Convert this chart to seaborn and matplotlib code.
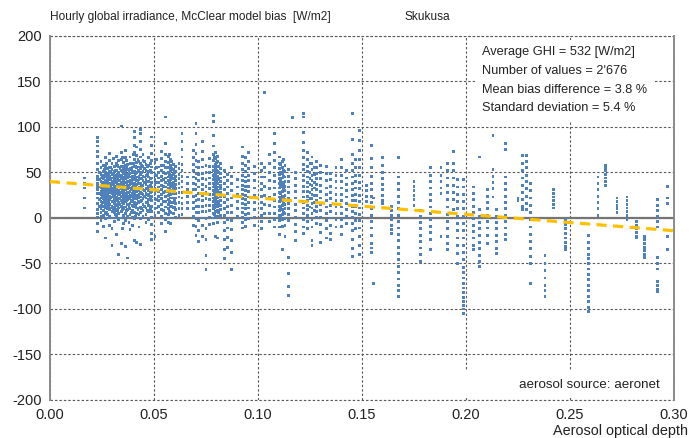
import matplotlib
matplotlib.use("Agg")
import matplotlib.pyplot as plt
from matplotlib.patches import Rectangle
import seaborn as sns
import pandas as pd

# Daily aerosol optical depth and the hourly GHI bias values recorded at it [W/m2]
day_aod = [
    0.0168, 0.0229, 0.0245, 0.0256, 0.0266, 0.0277, 0.0288, 0.0298, 0.0309, 0.0320,
    0.0331, 0.0342, 0.0352, 0.0363, 0.0374, 0.0385, 0.0396, 0.0407, 0.0418, 0.0428,
    0.0437, 0.0447, 0.0462, 0.0475, 0.0490, 0.0505, 0.0520, 0.0535, 0.0555, 0.0568,
    0.0580, 0.0592, 0.0603, 0.0620, 0.0635, 0.0660, 0.0690, 0.0702, 0.0715, 0.0735,
    0.0750, 0.0768, 0.0785, 0.0795, 0.0806, 0.0818, 0.0838, 0.0855, 0.0872, 0.0900,
    0.0925, 0.0940, 0.0955, 0.0985, 0.1015, 0.1030, 0.1055, 0.1080, 0.1105, 0.1118,
    0.1130, 0.1145, 0.1165, 0.1180, 0.1220, 0.1240, 0.1260, 0.1280, 0.1300, 0.1330,
    0.1350, 0.1375, 0.1400, 0.1425, 0.1455, 0.1470, 0.1490, 0.1520, 0.1545, 0.1555,
    0.1600, 0.1640, 0.1675, 0.1750, 0.1780, 0.1830, 0.1880, 0.1910, 0.1940, 0.1960,
    0.1990, 0.2035, 0.2067, 0.2105, 0.2130, 0.2145, 0.2190, 0.2250, 0.2270, 0.2290,
    0.2310, 0.2380, 0.2420, 0.2480, 0.2590, 0.2635, 0.2670, 0.2726, 0.2774, 0.2820,
    0.2860, 0.2920, 0.2970,
]

day_bias = [
    [44, 38, 33, 22, 11],
    [88, 84, 79, 73, 68, 60, 53, 46, 42, 38, 35, 31, 27, 22, 16, 9, 5, 1, -6, -15],
    [62, 55, 48, 44, 40, 36, 33, 29, 26, 22, 18, 14, 10, 6, 2, -3],
    [58, 51, 47, 43, 38, 35, 31, 28, 25, 21, 17, 12, 8, 3, -9],
    [66, 57, 50, 45, 41, 37, 34, 30, 27, 24, 20, 16, 11, 5, -1, -22],
    [54, 49, 44, 40, 36, 32, 29, 26, 23, 19, 15, 10, 4],
    [71, 63, 56, 51, 46, 42, 38, 35, 31, 28, 24, 20, 15, 9, 2, -8],
    [60, 53, 48, 44, 40, 37, 33, 30, 27, 23, 18, 13, 7, -12, -30],
    [57, 51, 46, 42, 39, 35, 32, 28, 25, 21, 16, 12, 6, 0, -4],
    [68, 60, 52, 47, 43, 39, 35, 31, 27, 23, 19, 14, 9, 3, -18],
    [63, 56, 50, 45, 41, 37, 34, 30, 26, 22, 17, 11, 5, -2, -40],
    [101, 72, 64, 57, 52, 47, 43, 39, 36, 32, 28, 24, 19, 13, 7, 0, -28],
    [61, 54, 49, 45, 41, 37, 33, 29, 25, 21, 16, 10, 3, -6],
    [74, 66, 58, 52, 47, 43, 39, 35, 31, 27, 23, 18, 12, 5, -3, -31],
    [59, 53, 48, 44, 40, 36, 32, 28, 24, 20, 15, 9, 2, -44],
    [67, 60, 54, 49, 45, 41, 37, 33, 29, 25, 21, 16, 10, 4, -13],
    [56, 50, 46, 42, 38, 34, 31, 27, 23, 19, 14, 8, 1, -8],
    [95, 88, 80, 72, 64, 57, 51, 46, 42, 38, 34, 30, 26, 22, 17, 12, 6, -1, -25],
    [78, 69, 61, 55, 50, 45, 41, 37, 33, 29, 25, 21, 16, 11, 5, -27],
    [62, 56, 51, 46, 42, 38, 34, 30, 26, 22, 17, 11, 4, -10],
    [97, 93, 84, 75, 67, 60, 54, 48, 43, 38, 33, 28, 23, 18, 12, 6, -1, -29],
    [70, 63, 57, 51, 46, 41, 36, 31, 26, 21, 15, 8, 2],
    [59, 52, 47, 42, 37, 32, 27, 22, 17, 11, 4, -5],
    [66, 58, 51, 45, 40, 35, 30, 25, 20, 14, 7, -2],
    [89, 80, 71, 63, 56, 50, 44, 39, 34, 29, 24, 19, 13, 7, 1, -7, -17, -24],
    [61, 54, 48, 42, 37, 32, 27, 22, 16, 10, 3, -20],
    [56, 50, 44, 39, 34, 29, 24, 19, 13, 6],
    [73, 65, 58, 52, 46, 41, 36, 31, 26, 21, 15, 9, 2, -6],
    [111, 82, 70, 62, 55, 49, 44, 39, 34, 29, 24, 18, 12, 5, -2, -15],
    [68, 61, 55, 50, 45, 41, 37, 33, 29, 25, 20, 15, 10, 4, -5],
    [64, 58, 52, 47, 42, 38, 34, 30, 26, 22, 17, 12, 6, 0, -6],
    [59, 53, 48, 43, 39, 35, 31, 27, 22, 17, 11, 5],
    [57, 51, 46, 41, 37, 32, 27, 22, 16, 9, 1],
    [60, 54, 48, 43, 38, 33, 28, 23, 17, 10, 3],
    [93, 84, 75, 67, 59, 52, 46, 40, 34, 28, 22, 16, 10, 4],
    [45, 38, 31, 24, 17, 10],
    [74, 66, 59, 52, 45, 38, 31, 24, 17, 10, 2, -8],
    [104, 93, 81, 71, 63, 56, 49, 43, 37, 31, 25, 19, 13, 6, -1, -9, -19],
    [62, 55, 48, 41, 34, 27, 20, 13, 6, -3, -14, -26],
    [84, 73, 64, 56, 49, 43, 37, 31, 25, 19, 13, 7, 0, -8, -20],
    [58, 50, 42, 35, 28, 21, 14, 7, -1, -12, -24, -41, -57],
    [65, 57, 50, 44, 38, 32, 26, 20, 14, 8, 1, -7],
    [113, 106, 91, 79, 70, 63, 57, 52, 47, 42, 38, 34, 30, 26, 22, 18, 14, 10, 5, 0, -6],
    [72, 65, 59, 54, 49, 45, 41, 37, 33, 29, 25, 21, 17, 12, 7, 1, -20],
    [68, 62, 56, 51, 46, 42, 38, 34, 30, 26, 22, 18, 13, 8, 2, -5, -22],
    [60, 54, 49, 44, 40, 36, 32, 28, 24, 19, 14, 9, 3],
    [52, 45, 38, 31, 24, 17, 10, 3, -5, -14, -24, -35, -45],
    [48, 41, 34, 27, 20, 13, 6, -2, -11, -21, -32],
    [55, 46, 38, 30, 22, 14, 6, -3, -13, -25, -38, -57],
    [42, 34, 26, 18, 10, 2],
    [78, 68, 60, 53, 47, 41, 36, 31, 26, 21, 16, 11, 6, 1, -5, -11],
    [66, 58, 51, 45, 40, 35, 30, 25, 20, 15, 10, 4, -2, -9],
    [72, 62, 54, 47, 41, 35, 29, 23, 17, 11, 5, -1],
    [57, 49, 41, 33, 25, 17, 9, 1, -8],
    [60, 52, 45, 38, 31, 24, 17, 10, 3, -4, -12],
    [138, 55, 45, 35, 25, 15, 5],
    [70, 60, 50, 41, 32, 23, 14, 5, -4],
    [93, 82, 72, 63, 55, 47, 40, 33, 26, 19, 12, 5, -2, -10],
    [67, 60, 54, 48, 43, 38, 33, 28, 23, 18, 13, 8, 3, -3, -10, -18],
    [62, 55, 49, 44, 39, 34, 29, 24, 19, 14, 9, 4, -2, -9, -35],
    [58, 51, 45, 40, 35, 30, 25, 20, 15, 10, 5, -1, -8, -20],
    [53, 46, 40, 34, 28, 22, 16, 10, 4, -3, -43, -61, -75, -85],
    [110],
    [50, 43, 36, 29, 22, 15, 8, 1, -7, -15, -25],
    [115, 111, 94, 83, 74, 66, 59, 53, 47, 41, 35, 29, 23, 17, 11, 5, -2, -10, -17],
    [72, 64, 57, 51, 45, 39, 34, 29, 24, 19, 14, 9, 3, -4, -12],
    [67, 60, 53, 47, 41, 36, 31, 26, 21, 16, 11, 5, -2, -10, -25, -30],
    [62, 55, 49, 43, 37, 31, 25, 19, 13, 7, 1, -6],
    [58, 50, 43, 36, 29, 22, 15, 8, 1, -7, -16, -27],
    [57, 49, 41, 33, 26, 19, 12, 5, -3, -12, -22],
    [49, 42, 35, 28, 21, 14, 7, 0, -8, -17, -24],
    [55, 47, 40, 33, 26, 19, 12, 5, -2, -10],
    [64, 55, 47, 40, 33, 26, 19, 12, 5, -2, -9, -18],
    [52, 44, 37, 30, 23, 16, 9, 2, -6],
    [115, 86, 70, 60, 52, 45, 38, 31, 25, 19, 13, 7, 1, -6, -14, -24, -34, -42],
    [64, 55, 47, 40, 33, 26, 19, 12, 5, -3, -12],
    [96, 85, 74, 64, 55, 47, 39, 32, 25, 18, 11, 4, -3, -11, -20, -30, -40],
    [36, 30, 24, 18, 12],
    [80, 65, 55, 46, 38, 31, 24, 17, 10, 3, -4, -11, -19, -28, -33, -38],
    [-72, 12, 22],
    [66, 58, 50, 43, 37, 31, 25, 19, 16],
    [13, 8, 3, -2, -8, -13, -17],
    [66, 45, 38, 31, 24, 17, 10, 3, -4, -11, -18, -25, -32, -39, -46, -53, -60, -67, -74, -80, -86],
    [40, 35, 30, 25, 20, 14],
    [8, 2, -5, -12, -19, -26, -33, -40, -48],
    [55, 47, 40, 33, 26, 19, 12, 5, -2, -9, -16, -24, -35],
    [55, 47, 40, 33, 27, -20],
    [60, 52, 44, 36, 28, 20, 12, 4, -4, -12, -20, -28, -35],
    [73, 60, 52, 44, 36, 28, 20, 9],
    [42, 34, 26, 18, 10, 2, -6, -14, -22, -30, -39, -50],
    [42, 34, 26, 18, 10, 2, -6, -14, -22, -30, -38, -46, -54, -60, -66, -72, -77, -82, -87, -92, -96, -100, -105],
    [34, 27, 20, 13, 6, -1, -8, -15, -22, -30, -35],
    [67, 9, 2, -5, -12, -19, -27, -34, -41, -48, -53],
    [31, 24, 17, 10, 3, -4, -11, -19, -28],
    [91, 53, 46, 39, 32, 23],
    [9, 2, -5, -12, -19, -26, -34, -39],
    [82, 75, 45, 38, 31, 24, 17, 10, 3, -4, -11, -18, -24],
    [22, 19],
    [69, 60, 52, 44, 36, 28, 20, 13, 9],
    [69, 62, 55, 47, 40, 32, 24, 16, 9],
    [38, 30, 22, 14, 6, -2, -10, -18, -26, -34, -42, -50, -72],
    [-41, -50, -58, -66, -74, -80, -86],
    [31, 27, 23, 19, 15, 11],
    [-2, -7, -12, -17, -22, -27, -31, -35],
    [-19, -27, -34, -40, -45, -50, -56, -62, -68, -74, -80, -86, -92, -98, -103],
    [45, 38, 31, 24, 17, 10, 3],
    [58, 55, 52, 48, 44, 40, 36],
    [22, 18, 14, 10, 6],
    [23, 19, 15, 11, 7, 3, -2],
    [-4, -8, -12, -16, -20, -22],
    [-20, -24, -28, -32, -36, -40, -43],
    [20, 14, 8, 2, -4, -10, -43, -50, -56, -70, -74, -78, -81],
    [35, 22, 16, -20, -35],
]

# Further days inside the crowded low-AOD band
busy_aod = [
    0.0240, 0.0250, 0.0261, 0.0272, 0.0282, 0.0293, 0.0304, 0.0314, 0.0326, 0.0337,
    0.0347, 0.0358, 0.0369, 0.0380, 0.0391, 0.0402, 0.0413, 0.0423, 0.0442, 0.0455,
    0.0468, 0.0482, 0.0512, 0.0545, 0.0574, 0.0586, 0.0598, 0.0790, 0.0801, 0.0812,
    0.1110, 0.1123, 0.1250, 0.1270,
]

busy_bias = [
    [50, 42, 34, 27, 20, 13],
    [45, 39, 32, 24, 15],
    [53, 46, 39, 32, 26, 19, 13],
    [60, 48, 41, 35, 28, 21, 12, 6],
    [47, 42, 37, 30, 22, 17, 13],
    [55, 50, 43, 36, 29, 22, 11, 0],
    [65, 49, 44, 38, 31, 25, 18, 9],
    [52, 46, 40, 34, 28, 22, 15, 4],
    [58, 48, 42, 36, 29, 20, 14, 8],
    [54, 47, 41, 35, 27, 21, 15],
    [66, 51, 44, 38, 30, 23, 17, 9, -12],
    [57, 50, 43, 34, 27, 20, 12],
    [63, 55, 46, 39, 33, 26, 19, 8],
    [52, 47, 40, 34, 28, 22, 13, -5],
    [60, 53, 45, 39, 32, 25, 18, 6],
    [70, 60, 50, 43, 36, 29, 21, 12],
    [57, 49, 43, 36, 29, 23, 14, 2],
    [64, 52, 45, 39, 31, 24, 18, 9],
    [58, 50, 44, 35, 27, 19, 10],
    [62, 54, 45, 39, 30, 24, 13],
    [56, 48, 40, 33, 26, 17, 8],
    [60, 52, 43, 36, 28, 21, 10],
    [64, 55, 47, 39, 30, 20, 11],
    [58, 50, 42, 35, 28, 18, 8],
    [70, 56, 48, 39, 33, 27, 18, 7],
    [62, 54, 45, 37, 30, 22, 13],
    [50, 44, 36, 28, 19, 12],
    [66, 56, 48, 43, 35, 28, 19, 11, 4],
    [61, 52, 44, 39, 31, 23, 15],
    [57, 50, 42, 34, 27, 16, 6],
    [59, 50, 41, 36, 27, 21, 11, 1],
    [64, 52, 46, 37, 31, 22, 16, 6],
    [60, 50, 43, 37, 28, 21, 12],
    [55, 48, 39, 33, 25, 17, 8],
]

# Linear fit of the bias against aerosol optical depth
trend_aod = [0.0, 0.30]
trend_bias = [40, -14]

x_ticks = [0.00, 0.05, 0.10, 0.15, 0.20, 0.25, 0.30]
y_ticks = [-200, -150, -100, -50, 0, 50, 100, 150, 200]

stats_lines = [
    "Average GHI = 532 [W/m2]",
    "Number of values = 2'676",
    "Mean bias difference = 3.8 %",
    "Standard deviation = 5.4 %",
]

rows = [(a, b)
        for aods, biases in ((day_aod, day_bias), (busy_aod, busy_bias))
        for a, day in zip(aods, biases) for b in day]
points = pd.DataFrame(rows, columns=["aod", "bias"])
trend = pd.DataFrame({"aod": trend_aod, "bias": trend_bias})

sns.set_style("white")
plt.rcParams["font.family"] = ["Liberation Sans", "DejaVu Sans"]

fig = plt.figure(figsize=(6.99, 4.38), dpi=100)
ax = fig.add_axes([0.0715, 0.0868, 0.8927, 0.8311])
ax.set_axisbelow(True)

grid_kw = dict(color="#5a5a5a", linewidth=0.8, linestyle=(0, (2.2, 1.8)))
ax.grid(True, **grid_kw)

# White panels that hold the annotations
ax.add_patch(Rectangle((0.681, 0.764), 0.289, 0.225, transform=ax.transAxes,
                       facecolor="white", edgecolor="none", zorder=1))
ax.add_patch(Rectangle((0.593, 0.006), 0.402, 0.076, transform=ax.transAxes,
                       facecolor="white", edgecolor="none", zorder=1))

ax.axhline(0, color="#757575", linewidth=1.6, zorder=1.5)

sns.scatterplot(data=points, x="aod", y="bias", ax=ax, marker="s", s=4.2,
                color="#4f81bd", edgecolor="none", linewidth=0, zorder=2)
sns.lineplot(data=trend, x="aod", y="bias", ax=ax, color="#ffc000",
             linewidth=2.3, dashes=False, zorder=3).lines[-1].set_dashes([3.2, 2.0])

ax.set_xlim(0, 0.30)
ax.set_ylim(-200, 200)
ax.set_xticks(x_ticks)
ax.set_yticks(y_ticks)
ax.set_xticklabels([f"{t:.2f}" for t in x_ticks])
ax.set_yticklabels([str(t) for t in y_ticks])
ax.tick_params(axis="both", length=0, labelsize=10.5, labelcolor="#222222", pad=6)
ax.set_xlabel("")
ax.set_ylabel("")

for side in ("top", "bottom"):
    ax.spines[side].set_visible(False)
for side in ("left", "right"):
    ax.spines[side].set_color("#8a8a8a")
    ax.spines[side].set_linewidth(1.4)
# dashed frame lines at the top and bottom
ax.axhline(200, **grid_kw, clip_on=False, zorder=0.5)
ax.axhline(-200, **grid_kw, clip_on=False, zorder=0.5)

ax.text(0.692, 0.972, "\n".join(stats_lines), transform=ax.transAxes,
        ha="left", va="top", fontsize=9.2, color="#222222", linespacing=1.75, zorder=4)
ax.text(0.978, 0.042, "aerosol source: aeronet", transform=ax.transAxes,
        ha="right", va="center", fontsize=9.6, color="#222222", zorder=4)

fig.text(0.0715, 0.962, "Hourly global irradiance, McClear model bias  [W/m2]",
         ha="left", va="center", fontsize=8.6, color="#222222")
fig.text(0.578, 0.962, "Skukusa", ha="left", va="center", fontsize=8.6, color="#222222")
fig.text(0.984, 0.016, "Aerosol optical depth", ha="right", va="center",
         fontsize=10.4, color="#222222")

fig.savefig("out.png", dpi=100, facecolor="white")
